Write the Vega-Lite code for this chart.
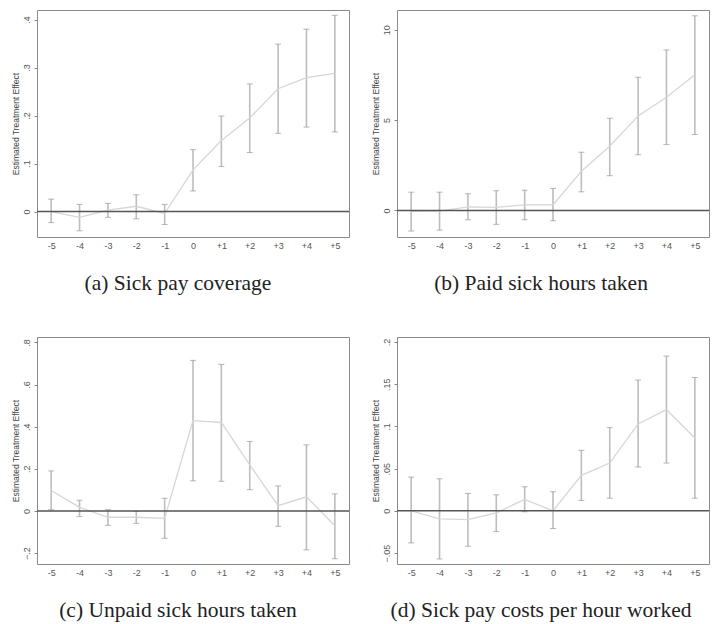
{
  "$schema": "https://vega.github.io/schema/vega-lite/v6.json",
  "padding": {"left": 10, "top": 9, "right": 6, "bottom": 5},
  "background": "white",
  "datasets": {
    "d": [
      {"p": "a", "t": "-5", "b": 0.0, "lo": -0.023, "hi": 0.026},
      {"p": "a", "t": "-4", "b": -0.012, "lo": -0.04, "hi": 0.015},
      {"p": "a", "t": "-3", "b": 0.003, "lo": -0.012, "hi": 0.017},
      {"p": "a", "t": "-2", "b": 0.011, "lo": -0.015, "hi": 0.035},
      {"p": "a", "t": "-1", "b": -0.004, "lo": -0.027, "hi": 0.015},
      {"p": "a", "t": "0", "b": 0.087, "lo": 0.043, "hi": 0.129},
      {"p": "a", "t": "+1", "b": 0.148, "lo": 0.094, "hi": 0.199},
      {"p": "a", "t": "+2", "b": 0.195, "lo": 0.123, "hi": 0.266},
      {"p": "a", "t": "+3", "b": 0.256, "lo": 0.163, "hi": 0.349},
      {"p": "a", "t": "+4", "b": 0.279, "lo": 0.176, "hi": 0.38},
      {"p": "a", "t": "+5", "b": 0.288, "lo": 0.166, "hi": 0.409},
      {"p": "b", "t": "-5", "b": -0.05, "lo": -1.14, "hi": 1.01},
      {"p": "b", "t": "-4", "b": -0.04, "lo": -1.09, "hi": 1.01},
      {"p": "b", "t": "-3", "b": 0.2, "lo": -0.52, "hi": 0.92},
      {"p": "b", "t": "-2", "b": 0.17, "lo": -0.77, "hi": 1.09},
      {"p": "b", "t": "-1", "b": 0.31, "lo": -0.52, "hi": 1.12},
      {"p": "b", "t": "0", "b": 0.31, "lo": -0.57, "hi": 1.22},
      {"p": "b", "t": "+1", "b": 2.17, "lo": 1.03, "hi": 3.22},
      {"p": "b", "t": "+2", "b": 3.55, "lo": 1.92, "hi": 5.1},
      {"p": "b", "t": "+3", "b": 5.23, "lo": 3.08, "hi": 7.37},
      {"p": "b", "t": "+4", "b": 6.26, "lo": 3.65, "hi": 8.88},
      {"p": "b", "t": "+5", "b": 7.51, "lo": 4.2, "hi": 10.77},
      {"p": "c", "t": "-5", "b": 0.097, "lo": 0.006, "hi": 0.19},
      {"p": "c", "t": "-4", "b": 0.017, "lo": -0.027, "hi": 0.051},
      {"p": "c", "t": "-3", "b": -0.03, "lo": -0.068, "hi": 0.006},
      {"p": "c", "t": "-2", "b": -0.03, "lo": -0.059, "hi": -0.002},
      {"p": "c", "t": "-1", "b": -0.035, "lo": -0.13, "hi": 0.06},
      {"p": "c", "t": "0", "b": 0.429, "lo": 0.143, "hi": 0.715},
      {"p": "c", "t": "+1", "b": 0.42, "lo": 0.141, "hi": 0.696},
      {"p": "c", "t": "+2", "b": 0.219, "lo": 0.101, "hi": 0.33},
      {"p": "c", "t": "+3", "b": 0.025, "lo": -0.073, "hi": 0.119},
      {"p": "c", "t": "+4", "b": 0.067, "lo": -0.185, "hi": 0.314},
      {"p": "c", "t": "+5", "b": -0.07, "lo": -0.227, "hi": 0.081},
      {"p": "d", "t": "-5", "b": 0.0, "lo": -0.038, "hi": 0.04},
      {"p": "d", "t": "-4", "b": -0.0095, "lo": -0.057, "hi": 0.038},
      {"p": "d", "t": "-3", "b": -0.0103, "lo": -0.042, "hi": 0.0206},
      {"p": "d", "t": "-2", "b": -0.0024, "lo": -0.0246, "hi": 0.019},
      {"p": "d", "t": "-1", "b": 0.0135, "lo": -0.0012, "hi": 0.0285},
      {"p": "d", "t": "0", "b": 0.0, "lo": -0.021, "hi": 0.0226},
      {"p": "d", "t": "+1", "b": 0.042, "lo": 0.0123, "hi": 0.0717},
      {"p": "d", "t": "+2", "b": 0.0566, "lo": 0.015, "hi": 0.0986},
      {"p": "d", "t": "+3", "b": 0.103, "lo": 0.0519, "hi": 0.155},
      {"p": "d", "t": "+4", "b": 0.12, "lo": 0.0566, "hi": 0.1834},
      {"p": "d", "t": "+5", "b": 0.0863, "lo": 0.015, "hi": 0.158}
    ],
    "zero": [{"z": 0}]
  },
  "config": {
    "view": {"stroke": "#8a8a8a", "strokeWidth": 1},
    "axis": {
      "domain": false, "grid": false,
      "labelFont": "Liberation Sans", "labelFontSize": 9, "labelColor": "#555",
      "titleFont": "Liberation Sans", "titleFontSize": 8.5, "titleFontWeight": "normal", "titleColor": "#444"
    },
    "axisX": {"ticks": false, "labelAngle": 0, "labelPadding": 4},
    "axisY": {"ticks": true, "tickSize": 3, "tickColor": "#888", "labelAngle": -90, "labelPadding": 3, "titlePadding": 2},
    "title": {"font": "Liberation Serif", "fontSize": 21.5, "fontWeight": "normal", "color": "#222", "orient": "bottom", "offset": 23}
  },
  "columns": 2,
  "spacing": {"row": 41, "column": 19},
  "concat": [
    {
      "width": 312, "height": 227,
      "title": {"text": "(a) Sick pay coverage", "dx": -15},
      "layer": [
        {"data": {"name": "d"}, "transform": [{"filter": "datum.p == 'a'"}],
         "mark": {"type": "rule", "color": "#bdbdbd", "strokeWidth": 1.6},
         "encoding": {
           "x": {"field": "t", "type": "ordinal", "title": null, "sort": ["-5","-4","-3","-2","-1","0","+1","+2","+3","+4","+5"], "scale": {"type": "point", "padding": 0.5}},
           "y": {"field": "lo", "type": "quantitative", "title": "Estimated Treatment Effect", "scale": {"domain": [-0.053, 0.42], "nice": false, "zero": false}, "axis": {"values": [0, 0.1, 0.2, 0.3, 0.4], "labelExpr": "replace(format(datum.value, '~f'), '0.', '.')"}},
           "y2": {"field": "hi"}}},
        {"data": {"name": "d"}, "transform": [{"filter": "datum.p == 'a'"}],
         "mark": {"type": "tick", "color": "#999", "size": 6, "thickness": 1},
         "encoding": {"x": {"field": "t", "type": "ordinal", "title": null, "sort": ["-5","-4","-3","-2","-1","0","+1","+2","+3","+4","+5"]}, "y": {"field": "lo", "type": "quantitative", "title": "Estimated Treatment Effect"}}},
        {"data": {"name": "d"}, "transform": [{"filter": "datum.p == 'a'"}],
         "mark": {"type": "tick", "color": "#999", "size": 6, "thickness": 1},
         "encoding": {"x": {"field": "t", "type": "ordinal", "title": null, "sort": ["-5","-4","-3","-2","-1","0","+1","+2","+3","+4","+5"]}, "y": {"field": "hi", "type": "quantitative", "title": "Estimated Treatment Effect"}}},
        {"data": {"name": "d"}, "transform": [{"filter": "datum.p == 'a'"}],
         "mark": {"type": "line", "color": "#d6d6d6", "strokeWidth": 1.3},
         "encoding": {"x": {"field": "t", "type": "ordinal", "title": null, "sort": ["-5","-4","-3","-2","-1","0","+1","+2","+3","+4","+5"]}, "y": {"field": "b", "type": "quantitative", "title": "Estimated Treatment Effect"}}},
        {"data": {"name": "zero"},
         "mark": {"type": "rule", "color": "#555", "strokeWidth": 1.5},
         "encoding": {"y": {"field": "z", "type": "quantitative", "title": "Estimated Treatment Effect"}}}
      ]
    },
    {
      "width": 312, "height": 227,
      "title": {"text": "(b) Paid sick hours taken", "dx": -12},
      "layer": [
        {"data": {"name": "d"}, "transform": [{"filter": "datum.p == 'b'"}],
         "mark": {"type": "rule", "color": "#bdbdbd", "strokeWidth": 1.6},
         "encoding": {
           "x": {"field": "t", "type": "ordinal", "title": null, "sort": ["-5","-4","-3","-2","-1","0","+1","+2","+3","+4","+5"], "scale": {"type": "point", "padding": 0.5}},
           "y": {"field": "lo", "type": "quantitative", "title": "Estimated Treatment Effect", "scale": {"domain": [-1.47, 11.09], "nice": false, "zero": false}, "axis": {"values": [0, 5, 10], "labelExpr": "replace(format(datum.value, '~f'), '0.', '.')"}},
           "y2": {"field": "hi"}}},
        {"data": {"name": "d"}, "transform": [{"filter": "datum.p == 'b'"}],
         "mark": {"type": "tick", "color": "#999", "size": 6, "thickness": 1},
         "encoding": {"x": {"field": "t", "type": "ordinal", "title": null, "sort": ["-5","-4","-3","-2","-1","0","+1","+2","+3","+4","+5"]}, "y": {"field": "lo", "type": "quantitative", "title": "Estimated Treatment Effect"}}},
        {"data": {"name": "d"}, "transform": [{"filter": "datum.p == 'b'"}],
         "mark": {"type": "tick", "color": "#999", "size": 6, "thickness": 1},
         "encoding": {"x": {"field": "t", "type": "ordinal", "title": null, "sort": ["-5","-4","-3","-2","-1","0","+1","+2","+3","+4","+5"]}, "y": {"field": "hi", "type": "quantitative", "title": "Estimated Treatment Effect"}}},
        {"data": {"name": "d"}, "transform": [{"filter": "datum.p == 'b'"}],
         "mark": {"type": "line", "color": "#d6d6d6", "strokeWidth": 1.3},
         "encoding": {"x": {"field": "t", "type": "ordinal", "title": null, "sort": ["-5","-4","-3","-2","-1","0","+1","+2","+3","+4","+5"]}, "y": {"field": "b", "type": "quantitative", "title": "Estimated Treatment Effect"}}},
        {"data": {"name": "zero"},
         "mark": {"type": "rule", "color": "#555", "strokeWidth": 1.5},
         "encoding": {"y": {"field": "z", "type": "quantitative", "title": "Estimated Treatment Effect"}}}
      ]
    },
    {
      "width": 312, "height": 227,
      "title": {"text": "(c) Unpaid sick hours taken", "dx": -15},
      "layer": [
        {"data": {"name": "d"}, "transform": [{"filter": "datum.p == 'c'"}],
         "mark": {"type": "rule", "color": "#bdbdbd", "strokeWidth": 1.6},
         "encoding": {
           "x": {"field": "t", "type": "ordinal", "title": null, "sort": ["-5","-4","-3","-2","-1","0","+1","+2","+3","+4","+5"], "scale": {"type": "point", "padding": 0.5}},
           "y": {"field": "lo", "type": "quantitative", "title": "Estimated Treatment Effect", "scale": {"domain": [-0.252, 0.826], "nice": false, "zero": false}, "axis": {"values": [-0.2, 0, 0.2, 0.4, 0.6, 0.8], "labelExpr": "replace(format(datum.value, '~f'), '0.', '.')"}},
           "y2": {"field": "hi"}}},
        {"data": {"name": "d"}, "transform": [{"filter": "datum.p == 'c'"}],
         "mark": {"type": "tick", "color": "#999", "size": 6, "thickness": 1},
         "encoding": {"x": {"field": "t", "type": "ordinal", "title": null, "sort": ["-5","-4","-3","-2","-1","0","+1","+2","+3","+4","+5"]}, "y": {"field": "lo", "type": "quantitative", "title": "Estimated Treatment Effect"}}},
        {"data": {"name": "d"}, "transform": [{"filter": "datum.p == 'c'"}],
         "mark": {"type": "tick", "color": "#999", "size": 6, "thickness": 1},
         "encoding": {"x": {"field": "t", "type": "ordinal", "title": null, "sort": ["-5","-4","-3","-2","-1","0","+1","+2","+3","+4","+5"]}, "y": {"field": "hi", "type": "quantitative", "title": "Estimated Treatment Effect"}}},
        {"data": {"name": "d"}, "transform": [{"filter": "datum.p == 'c'"}],
         "mark": {"type": "line", "color": "#d6d6d6", "strokeWidth": 1.3},
         "encoding": {"x": {"field": "t", "type": "ordinal", "title": null, "sort": ["-5","-4","-3","-2","-1","0","+1","+2","+3","+4","+5"]}, "y": {"field": "b", "type": "quantitative", "title": "Estimated Treatment Effect"}}},
        {"data": {"name": "zero"},
         "mark": {"type": "rule", "color": "#555", "strokeWidth": 1.5},
         "encoding": {"y": {"field": "z", "type": "quantitative", "title": "Estimated Treatment Effect"}}}
      ]
    },
    {
      "width": 312, "height": 227,
      "title": {"text": "(d) Sick pay costs per hour worked", "dx": -12},
      "layer": [
        {"data": {"name": "d"}, "transform": [{"filter": "datum.p == 'd'"}],
         "mark": {"type": "rule", "color": "#bdbdbd", "strokeWidth": 1.6},
         "encoding": {
           "x": {"field": "t", "type": "ordinal", "title": null, "sort": ["-5","-4","-3","-2","-1","0","+1","+2","+3","+4","+5"], "scale": {"type": "point", "padding": 0.5}},
           "y": {"field": "lo", "type": "quantitative", "title": "Estimated Treatment Effect", "scale": {"domain": [-0.063, 0.206], "nice": false, "zero": false}, "axis": {"values": [-0.05, 0, 0.05, 0.1, 0.15, 0.2], "labelExpr": "replace(format(datum.value, '~f'), '0.', '.')"}},
           "y2": {"field": "hi"}}},
        {"data": {"name": "d"}, "transform": [{"filter": "datum.p == 'd'"}],
         "mark": {"type": "tick", "color": "#999", "size": 6, "thickness": 1},
         "encoding": {"x": {"field": "t", "type": "ordinal", "title": null, "sort": ["-5","-4","-3","-2","-1","0","+1","+2","+3","+4","+5"]}, "y": {"field": "lo", "type": "quantitative", "title": "Estimated Treatment Effect"}}},
        {"data": {"name": "d"}, "transform": [{"filter": "datum.p == 'd'"}],
         "mark": {"type": "tick", "color": "#999", "size": 6, "thickness": 1},
         "encoding": {"x": {"field": "t", "type": "ordinal", "title": null, "sort": ["-5","-4","-3","-2","-1","0","+1","+2","+3","+4","+5"]}, "y": {"field": "hi", "type": "quantitative", "title": "Estimated Treatment Effect"}}},
        {"data": {"name": "d"}, "transform": [{"filter": "datum.p == 'd'"}],
         "mark": {"type": "line", "color": "#d6d6d6", "strokeWidth": 1.3},
         "encoding": {"x": {"field": "t", "type": "ordinal", "title": null, "sort": ["-5","-4","-3","-2","-1","0","+1","+2","+3","+4","+5"]}, "y": {"field": "b", "type": "quantitative", "title": "Estimated Treatment Effect"}}},
        {"data": {"name": "zero"},
         "mark": {"type": "rule", "color": "#555", "strokeWidth": 1.5},
         "encoding": {"y": {"field": "z", "type": "quantitative", "title": "Estimated Treatment Effect"}}}
      ]
    }
  ]
}
